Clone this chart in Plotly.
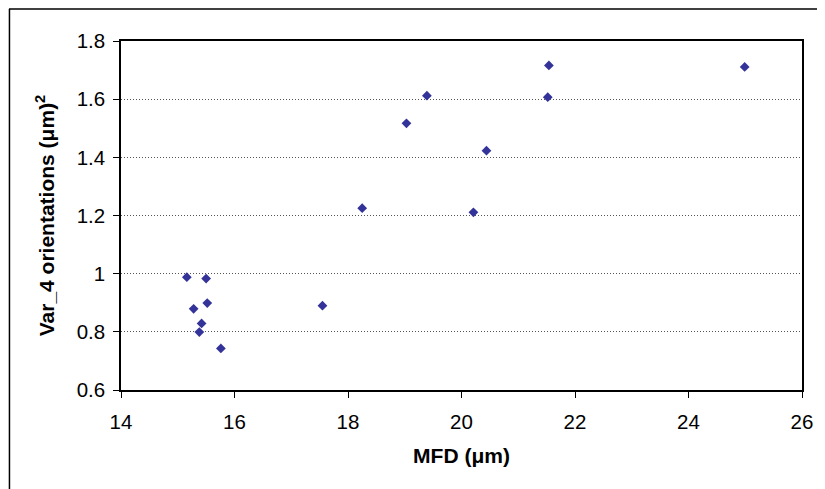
import plotly.graph_objects as go

mfd = [15.16, 15.50, 15.52, 15.28, 15.42, 15.38, 15.76, 17.55, 18.25, 19.03,
       19.39, 20.21, 20.44, 21.52, 21.54, 24.99]
var4 = [0.988, 0.983, 0.899, 0.879, 0.829, 0.799, 0.743, 0.890, 1.225, 1.517,
        1.612, 1.211, 1.423, 1.607, 1.716, 1.711]

# page body has an 8px margin, so the figure is placed at (8, 8)
OFF = 8
W, H = 825 - OFF, 489 - OFF
L, R, T, B = 120.5 - OFF, 804.3 - OFF, 41 - OFF, 390 - OFF

fig = go.Figure()
fig.add_trace(go.Scatter(
    x=mfd, y=var4, mode="markers",
    marker=dict(symbol="diamond", size=7.5, color="#333399", line=dict(width=0)),
    showlegend=False, cliponaxis=False,
))

font = "Liberation Sans, Arial, sans-serif"
fig.update_layout(
    width=W, height=H,
    margin=dict(l=L, r=W - R, t=T, b=H - B, pad=0),
    paper_bgcolor="white", plot_bgcolor="white",
    font=dict(family=font, size=20.5, color="black"),
    xaxis=dict(range=[14, 26], dtick=2, tick0=14, showgrid=False, zeroline=False,
               showline=True, linecolor="black", linewidth=1.5, mirror=True,
               ticks="outside", ticklen=6, tickwidth=1.2, tickcolor="black",
               tickfont=dict(size=20.5), ticklabelstandoff=7,
               title=dict(text="<b>MFD (μm)</b>", font=dict(size=21), standoff=16)),
    yaxis=dict(range=[0.6, 1.8], dtick=0.2, tick0=0.6, showgrid=True,
               gridcolor="#555555", griddash="1px,2px", gridwidth=1, zeroline=False,
               showline=True, linecolor="black", linewidth=1.5, mirror=True,
               ticks="outside", ticklen=6, tickwidth=1.2, tickcolor="black",
               tickfont=dict(size=20.5), ticklabelstandoff=4,
               title=dict(text="<b>Var_4 orientations (μm)<sup>2</sup></b>",
                          font=dict(size=21), standoff=16)),
    shapes=[
        dict(type="line", xref="paper", yref="paper",
             x0=(8 - OFF - L) / (R - L), x1=(830 - OFF - L) / (R - L),
             y0=(B - (9 - OFF)) / (B - T), y1=(B - (9 - OFF)) / (B - T),
             line=dict(color="black", width=1.5)),
        dict(type="line", xref="paper", yref="paper",
             x0=(8.5 - OFF - L) / (R - L), x1=(8.5 - OFF - L) / (R - L),
             y0=(B - (9 - OFF)) / (B - T), y1=(B - (495 - OFF)) / (B - T),
             line=dict(color="black", width=1.5)),
    ],
)
fig.write_html("out.html")
